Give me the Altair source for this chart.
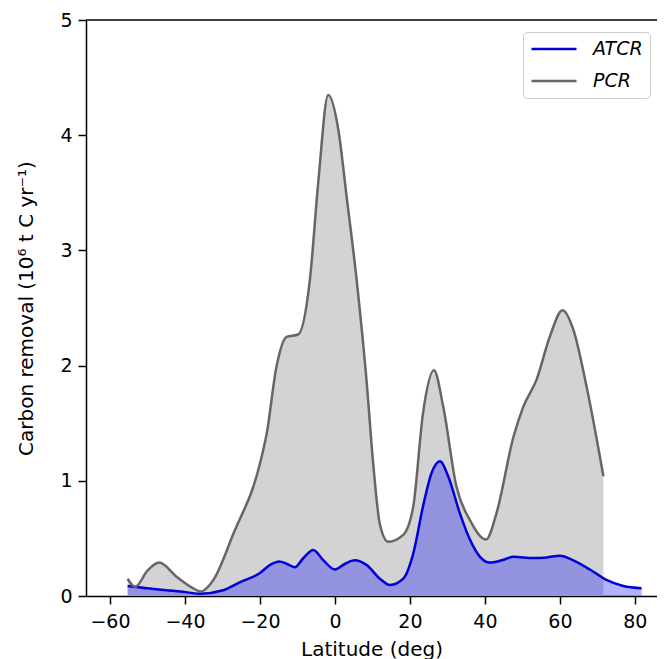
import altair as alt
import pandas as pd

PCR_LAT = [-55.3, -53.3, -50, -46.9, -42, -38, -35.8, -32.4, -27.1, -20, -18.2, -15.6, -12.9, -9.8,
           -6.7, -4.4, -1.8, 0.9, 3.1, 5.8, 8.4, 10.2, 12, 14.2, 18.2, 20.9, 23.5, 26.4, 28.9, 32.4,
           36, 40.3, 43.1, 47.6, 50.2, 53.8, 57.3, 60.7, 63.6, 67.1, 71.6]
PCR_VAL = [0.15, 0.08, 0.22, 0.29, 0.16, 0.07, 0.04, 0.14, 0.54, 1.15, 1.41, 1.99, 2.25, 2.27,
           2.74, 3.61, 4.35, 4.05, 3.47, 2.74, 1.88, 1.15, 0.62, 0.47, 0.53, 0.78, 1.59, 1.96, 1.64, 0.95,
           0.66, 0.49, 0.72, 1.38, 1.64, 1.88, 2.25, 2.48, 2.31, 1.82, 1.04]

ATCR_LAT = [-55.3, -50.2, -41.3, -36, -29.8, -25.3, -20, -17.3, -14.8, -12.9, -10.7, -8.4, -5.8, -3.1,
            0, 2.7, 5.3, 8.4, 12, 14.7, 18.2, 20.9, 23.5, 25.8, 28, 30.2, 33.3, 36, 38.7, 41.3,
            44.5, 47.6, 52.9, 56.5, 60, 63.6, 68, 72.4, 76.9, 81.8]
ATCR_VAL = [0.087, 0.067, 0.04, 0.02, 0.05, 0.12, 0.20, 0.27, 0.30, 0.28, 0.25, 0.33, 0.40, 0.31,
            0.23, 0.28, 0.31, 0.27, 0.15, 0.095, 0.15, 0.37, 0.78, 1.07, 1.17, 1.04, 0.72, 0.49, 0.34, 0.29,
            0.31, 0.34, 0.33, 0.335, 0.35, 0.31, 0.23, 0.14, 0.087, 0.067]

SERIES = ["ATCR", "PCR"]
X_TICKS = [-60, -40, -20, 0, 20, 40, 60, 80]
Y_TICKS = [0, 1, 2, 3, 4, 5]

pcr = pd.DataFrame({"lat": PCR_LAT, "val": PCR_VAL, "series": "PCR"})
atcr = pd.DataFrame({"lat": ATCR_LAT, "val": ATCR_VAL, "series": "ATCR"})
lines = pd.concat([atcr, pcr], ignore_index=True)

FONT = "DejaVu Sans"

x = alt.X("lat:Q",
          scale=alt.Scale(domain=[-66.4, 85.9], nice=False, zero=False),
          axis=alt.Axis(values=X_TICKS, title="Latitude (deg)", format="d"))
y = alt.Y("val:Q",
          scale=alt.Scale(domain=[0, 5], nice=False),
          axis=alt.Axis(values=Y_TICKS, title="Carbon removal (10⁶ t C yr⁻¹)", format="d"))

pcr_area = alt.Chart(pcr).mark_area(color="#d3d3d3", interpolate="monotone").encode(x=x, y=y)
atcr_area = alt.Chart(atcr).mark_area(color="#0000ff", opacity=0.3, interpolate="monotone").encode(x=x, y=y)
line = alt.Chart(lines).mark_line(interpolate="monotone", strokeWidth=2.5).encode(
    x=x, y=y,
    color=alt.Color("series:N",
                    scale=alt.Scale(domain=SERIES, range=["#0000d8", "#666666"]),
                    legend=alt.Legend(orient="none", legendX=437, legendY=12, title=None,
                                      fillColor="white", strokeColor="#cccccc", cornerRadius=4,
                                      padding=7, symbolType="stroke", symbolSize=2025, clipHeight=20,
                                      symbolStrokeWidth=2.5, labelFont=FONT, labelFontSize=19,
                                      labelFontStyle="italic", labelColor="black",
                                      rowPadding=12, labelOffset=15)),
    order=alt.Order("lat:Q"),
)
top = alt.Chart(pd.DataFrame({"v": [5]})).mark_rule(color="black", strokeWidth=1.5).encode(y=alt.Y("v:Q"))

chart = alt.layer(pcr_area, atcr_area, line, top).properties(
    width=571, height=576,
    autosize=alt.AutoSizeParams(type="none"),
    padding={"left": 78, "top": 12, "right": 0, "bottom": 63},
).configure_view(stroke=None).configure_axis(
    labelFont=FONT, labelFontSize=19, labelColor="black",
    titleFont=FONT, titleFontSize=20, titleFontWeight="normal", titleColor="black",
    domainColor="black", domainWidth=1.5, tickColor="black", tickWidth=1.5, tickSize=8,
    grid=False,
).configure_axisY(titlePadding=23, labelPadding=6).configure_axisX(titlePadding=8, labelPadding=8)

chart.save("out.html", embed_options={"renderer": "svg", "actions": False})
